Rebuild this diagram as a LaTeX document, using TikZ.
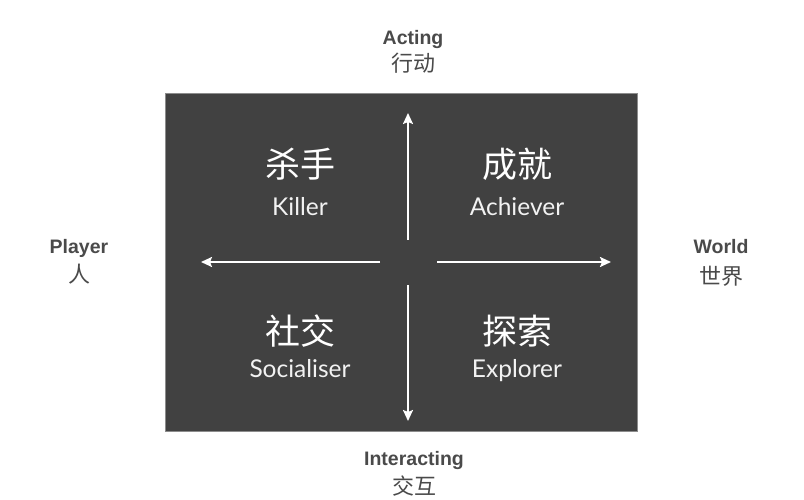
\documentclass[tikz,border=0pt]{standalone}
\usepackage{fontspec}
\setmainfont{Lato}
\newfontfamily\labelfont{Liberation Sans}
\newfontfamily\cjk{Noto Sans CJK SC}
\usetikzlibrary{arrows.meta}
\definecolor{boxgrey}{HTML}{414141}
\definecolor{textgrey}{HTML}{4A4A4A}

\begin{document}
\begin{tikzpicture}[x=1pt,y=-1pt,
	axis/.style={white,line width=2pt,-{Stealth[length=11pt,width=10pt,inset=2pt]}},
	cjkname/.style={white,anchor=base,font=\cjk\fontsize{35}{37}\selectfont},
	enname/.style={white!95!black,anchor=base,font=\fontsize{24.5}{26}\selectfont},
	outname/.style={textgrey,anchor=base,font=\labelfont\bfseries\fontsize{19.5}{22}\selectfont},
	outcjk/.style={textgrey,anchor=base,font=\cjk\fontsize{22}{24}\selectfont}]

\useasboundingbox[fill=white] (0,0) rectangle (804,500);

\fill[black!45] (165,93) rectangle (638,432);
\fill[boxgrey] (166,94) rectangle (637,431);

\coordinate (upS) at (408,240);
\coordinate (upE) at (408,113);
\coordinate (downS) at (408,285);
\coordinate (downE) at (408,421);
\coordinate (leftS) at (380,262);
\coordinate (leftE) at (201,262);
\coordinate (rightS) at (437,262);
\coordinate (rightE) at (611,262);

\draw[axis] (upS)--(upE);
\draw[axis] (downS)--(downE);
\draw[axis] (leftS)--(leftE);
\draw[axis] (rightS)--(rightE);

\node[cjkname] (killerZh) at (300,178) {杀手};
\node[enname] (killerEn) at (300,215) {Killer};
\node[cjkname] (achieverZh) at (517,178) {成就};
\node[enname] (achieverEn) at (517,215) {Achiever};
\node[cjkname] (socialiserZh) at (300,344) {社交};
\node[enname] (socialiserEn) at (300,377) {Socialiser};
\node[cjkname] (explorerZh) at (517,344) {探索};
\node[enname] (explorerEn) at (517,377) {Explorer};

\node[outname] (actingEn) at (413,45) {Acting};
\node[outcjk] (actingZh) at (413,72) {行动};
\node[outname] (playerEn) at (79,254) {Player};
\node[outcjk] (playerZh) at (79,283) {人};
\node[outname] (worldEn) at (721,253) {World};
\node[outcjk] (worldZh) at (721,284) {世界};
\node[outname] (interactingEn) at (414,465) {Interacting};
\node[outcjk] (interactingZh) at (414,494) {交互};

\end{tikzpicture}
\end{document}
